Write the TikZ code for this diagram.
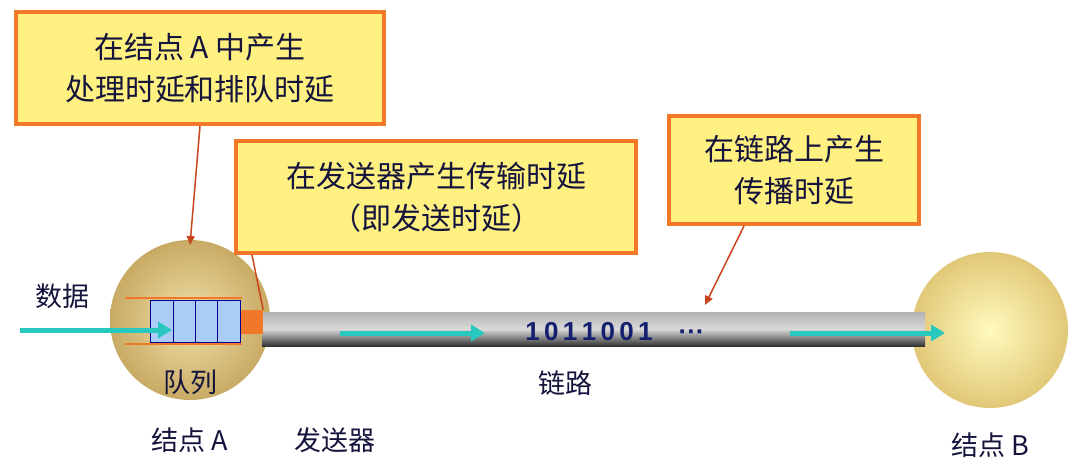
\documentclass[tikz,border=0pt]{standalone}
\usepackage{fontspec}
\newfontfamily\cjk{Noto Sans CJK SC}
\newfontfamily\lsans{Liberation Sans}
\usetikzlibrary{arrows.meta,shadings,calc}
\definecolor{boxfill}{RGB}{255,240,130}
\definecolor{boxline}{RGB}{240,120,40}
\definecolor{txt}{RGB}{20,20,60}
\definecolor{arr}{RGB}{40,200,190}
\definecolor{lead}{RGB}{200,70,30}
\tikzset{
 note/.style={draw=boxline,line width=4pt,fill=boxfill,align=center,font=\cjk\fontsize{30}{42}\selectfont,text=txt,inner sep=0pt},
 lbl/.style={font=\cjk\fontsize{27}{30}\selectfont,text=txt},
 flow/.style={arr,line width=5pt,-{Triangle[length=14pt,width=16pt]}},
 leader/.style={lead,line width=1.5pt},
}
\begin{document}
\begin{tikzpicture}[x=1pt,y=-1pt]
\useasboundingbox (0,0) rectangle (1080,474);
\fill[white] (0,0) rectangle (1080,474);
% nodes
\shade[inner color={rgb,255:red,240;green,225;blue,170},outer color={rgb,255:red,200;green,170;blue,100}] (190,320) circle (80);
\node[circle,minimum size=160pt] (A) at (190,320) {};
\shade[inner color={rgb,255:red,255;green,250;blue,190},outer color={rgb,255:red,225;green,200;blue,120}] (990,330) circle (78);
\node[circle,minimum size=156pt] (B) at (990,330) {};
% link
\shade[top color=gray!60,bottom color=black!80,middle color=gray!30] (262,312) rectangle (925,346);
\node[inner sep=0pt,minimum width=663pt,minimum height=34pt] (link) at (593.5,329) {};
% queue
\draw[boxline,line width=2pt] (125,298) -- (242,298) (125,344) -- (242,344);
\node[draw=blue!60!black,fill={rgb,255:red,170;green,205;blue,245},minimum width=90pt,minimum height=42pt,inner sep=0pt] (Q) at (195,321) {};
\draw[blue!60!black,line width=1pt] (173,300) -- (173,342) (195,300) -- (195,342) (217,300) -- (217,342);
\node[fill=boxline,minimum width=22pt,minimum height=24pt,inner sep=0pt] (T) at (252,322) {};
% arrows
\coordinate (d0) at (20,330); \coordinate (d1) at (172,330);
\draw[flow] (d0) -- (d1);
\coordinate (l0) at (340,333); \coordinate (l1) at (485,333);
\draw[flow] (l0) -- (l1);
\coordinate (r0) at (790,333); \coordinate (r1) at (945,333);
\draw[flow] (r0) -- (r1);
\node[font=\lsans\bfseries\fontsize{26}{28}\selectfont,text={rgb,255:red,20;green,30;blue,110}] (bits) at (615,332) {1\,0\,1\,1\,0\,0\,1\quad ···};
% labels
\node[lbl] (data) at (62,296) {数据};
\node[lbl] (ql) at (190,382) {队列};
\node[lbl] (na) at (190,440) {结点 A};
\node[lbl] (tx) at (335,440) {发送器};
\node[lbl] (lk) at (565,383) {链路};
\node[lbl] (nb) at (990,445) {结点 B};
% notes
\node[note,minimum width=368pt,minimum height=112pt] (n1) at (200,68) {在结点 A 中产生\\处理时延和排队时延};
\node[note,minimum width=400pt,minimum height=112pt] (n2) at (436,197) {在发送器产生传输时延\\（即发送时延）};
\node[note,minimum width=250pt,minimum height=108pt] (n3) at (794,170) {在链路上产生\\传播时延};
\coordinate (a1) at (190,245);
\draw[leader,-{Triangle[length=9pt,width=8pt]}] (n1.south) -- (a1);
\coordinate (b0) at ($(n2.south west)+(18,0)$);
\draw[leader] (b0) -- (T.north east);
\coordinate (c0) at ($(n3.south)+(-50,0)$);
\coordinate (c1) at (705,305);
\draw[leader,-{Triangle[length=9pt,width=8pt]}] (c0) -- (c1);
\end{tikzpicture}
\end{document}
